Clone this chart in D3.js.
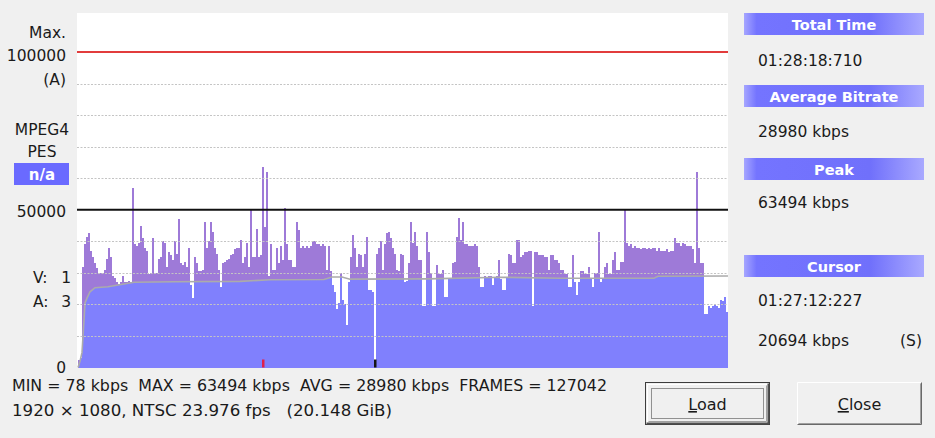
<!DOCTYPE html>
<html><head><meta charset="utf-8">
<script src="https://cdn.jsdelivr.net/npm/d3@7"></script>
<style>
html,body{margin:0;padding:0;background:#f0f0f0;}
svg{display:block;}
text{font-family:"DejaVu Sans",Tahoma,Verdana,sans-serif;fill:#1a1a1a;}
</style></head><body>
<svg id="c" width="935" height="438"></svg>
<script>
// ---- data (kbps per time bucket, left to right) ----
const bitrates = [
2500,3000,32000,39000,41500,42700,37000,35000,33000,31500,
30000,30000,30000,31000,34500,38000,35000,29000,28500,27000,
26500,27000,29000,27000,27000,27500,27000,57000,39000,38500,
39500,45000,41000,38000,37000,29500,30000,41000,30000,30000,
34500,35000,40000,39500,32000,36500,35500,34000,40000,36000,
47000,33000,32500,33500,32000,38000,26000,22000,35000,33000,
30500,30500,31000,46000,38000,40000,46000,43000,38000,36000,
31000,25500,33000,33500,34000,34500,35500,36000,37500,38000,
38000,40500,33000,35000,39500,32000,50000,35000,35000,44000,
35000,35500,63494,44500,62000,29000,39000,31000,31000,38000,
33000,38500,34000,50500,39000,34000,34000,32000,32000,46000,
43500,38000,38500,38000,38500,38000,38500,40000,40000,39000,
39000,38500,39000,38500,31000,38500,30500,26000,24000,18500,
20500,30000,21500,20000,13500,27000,35000,42000,38000,32000,
36000,35500,32000,36000,41500,24500,24500,24000,78,36000,
38000,40000,31000,39000,42500,43000,41000,38000,36000,31000,
30500,36000,35500,27000,27500,33000,46000,39500,43000,38500,
34000,34000,19500,19500,43000,36500,30000,19500,19500,32500,
29500,29500,31000,22500,22500,28500,28000,33000,33500,41500,
47500,40500,46000,39000,39000,38500,38500,38500,39000,38500,
32000,25500,25500,29000,28500,29000,29000,26000,28500,29000,
34000,28000,24500,24500,28500,36000,35500,33000,33000,40500,
40500,35000,35500,36500,36500,37000,37000,19500,36500,36500,
35500,35500,35500,35000,35000,31000,35500,35500,34000,34000,
33000,31000,31000,29500,29500,25500,25500,35500,27000,23000,
27000,30500,30500,29500,29500,32000,28000,25500,30000,30000,
43000,27000,28000,32000,33000,29500,29500,34000,36500,31000,
31000,33500,33500,50000,39500,38500,39000,38000,38500,38000,
38000,37500,38000,38000,37500,38000,37500,38000,38000,37000,
38000,37000,37000,37000,37500,36500,37000,37000,41000,39500,
39500,38500,39500,39000,38500,38500,38500,37500,33000,62000,
38000,33000,33000,17000,17000,19500,19000,19500,20000,19500,
19000,21500,21000,22500,17500
];
// running average (grey line): bucket position and kbps
const avgPos    = [0,1,2,3,3.5,4.5,6,8.5,15,28,48,81,96,123,127,132,136,175,211,241,288,290,325];
const avgValues = [0,2000,4700,15000,20500,22000,24000,25300,25600,27000,27200,27300,27800,27900,28700,28700,28000,28100,28600,28300,28300,28900,28980];

const gridTicks = [10000,20000,30000,40000,60000,70000,80000,90000];
const maxLine = 100000;
const refLine = 50000;

const leftRight = [ // right aligned labels
  {t:"Max.", y:38}, {t:"100000", y:61}, {t:"(A)", y:85}, {t:"50000", y:217}, {t:"0", y:373}
];
const leftCenter = [{t:"MPEG4", y:135}, {t:"PES", y:157}];
const streamLabels = [{k:"V:", v:"1", y:283}, {k:"A:", v:"3", y:307}];

const panelHeaders = ["Total Time","Average Bitrate","Peak","Cursor"];
const panelHeaderY = [13,85,158,255];
const panelValues = [
  {t:"01:28:18:710", y:66}, {t:"28980 kbps", y:137}, {t:"63494 kbps", y:208},
  {t:"01:27:12:227", y:306}, {t:"20694 kbps", y:346}
];
const cursorFlag = "(S)";
const statsLine1 = "MIN = 78 kbps  MAX = 63494 kbps  AVG = 28980 kbps  FRAMES = 127042";
const statsLine2 = "1920 \u00d7 1080, NTSC 23.976 fps   (20.148 GiB)";
const buttons = [{label:"Load", def:true}, {label:"Close", def:false}];

// ---- drawing ----
const svg = d3.select("#c");
const N = bitrates.length;
const x = d3.scaleLinear().domain([0, N]).range([78, 728]);
const y = d3.scaleLinear().domain([0, 100000]).range([367.5, 52]);
const plotTop = 13;

const defs = svg.append("defs");
const hg = defs.append("linearGradient").attr("id","hdr").attr("x1","0").attr("x2","1");
[["0%","#a6a6ff"],["7%","#7474ff"],["70%","#7070fb"],["100%","#a9a9ff"]].forEach(s=>hg.append("stop").attr("offset",s[0]).attr("stop-color",s[1]));

// plot background
svg.append("rect").attr("x", 77).attr("y", plotTop).attr("width", 651).attr("height", y(0) - plotTop + 0.5).attr("fill", "#fff");

const bw = x(1) - x(0);
// purple: whole bar
svg.append("g").selectAll("rect").data(bitrates).join("rect")
  .attr("x", (d,i) => x(i)).attr("width", bw)
  .attr("y", d => y(d)).attr("height", d => y(0) - y(d))
  .attr("fill", "#9e7ad8").attr("shape-rendering","crispEdges");

// blue: part below running average (clip)
const avgPts = avgPos.map((p,i)=>[p, avgValues[i]]);
defs.append("clipPath").attr("id","under").append("path")
  .attr("d", d3.area().x(d=>x(d[0])).y0(y(0)+2).y1(d=>y(d[1]))(avgPts));
svg.append("g").attr("clip-path","url(#under)").selectAll("rect").data(bitrates).join("rect")
  .attr("x", (d,i) => x(i)).attr("width", bw)
  .attr("y", d => y(d)).attr("height", d => y(0) - y(d))
  .attr("fill", "#8080fd").attr("shape-rendering","crispEdges");

// running average line
svg.append("path").attr("d", d3.line().x(d=>x(d[0])).y(d=>y(d[1]))(avgPts))
  .attr("fill","none").attr("stroke","#ababab").attr("stroke-width",1.6);

// grid
svg.append("g").selectAll("line").data(gridTicks).join("line")
  .attr("x1", 77).attr("x2", 728).attr("y1", d=>Math.round(y(d))+0.5).attr("y2", d=>Math.round(y(d))+0.5)
  .attr("stroke","#c4c4c4").attr("stroke-dasharray","2,1.5");
svg.append("line").attr("x1",77).attr("x2",728).attr("y1",y(maxLine)).attr("y2",y(maxLine))
  .attr("stroke","#e23c3c").attr("stroke-width",2);
svg.append("line").attr("x1",77).attr("x2",728).attr("y1",y(refLine)).attr("y2",y(refLine))
  .attr("stroke","#111").attr("stroke-width",2);

// max / min markers
const markers = [{i:d3.maxIndex(bitrates), c:"#e0204a"}, {i:d3.minIndex(bitrates), c:"#151515"}];
svg.append("g").selectAll("rect").data(markers).join("rect")
  .attr("x", d=>x(d.i)).attr("width", 2.5).attr("y", y(0)-8).attr("height", 8).attr("fill", d=>d.c);

// left labels
svg.append("g").selectAll("text").data(leftRight).join("text")
  .attr("x", 66).attr("y", d=>d.y).attr("text-anchor","end").attr("font-size",15.5).text(d=>d.t);
svg.append("g").selectAll("text").data(leftCenter).join("text")
  .attr("x", 42).attr("y", d=>d.y).attr("text-anchor","middle").attr("font-size",15.5).text(d=>d.t);
svg.append("rect").attr("x",14).attr("y",163).attr("width",55).attr("height",22).attr("fill","#6a6aff");
svg.append("text").attr("x",42).attr("y",179.5).attr("text-anchor","middle").attr("font-size",15)
  .attr("font-weight","bold").style("fill","#fff").text("n/a");
const sl = svg.append("g").selectAll("g").data(streamLabels).join("g");
sl.append("text").attr("x",33).attr("y",d=>d.y).attr("font-size",15.5).text(d=>d.k);
sl.append("text").attr("x",71).attr("y",d=>d.y).attr("text-anchor","end").attr("font-size",15.5).text(d=>d.v);

// right panel
const hdr = svg.append("g").selectAll("g").data(panelHeaders).join("g");
hdr.append("rect").attr("x",744).attr("y",(d,i)=>panelHeaderY[i]).attr("width",180).attr("height",22).attr("fill","url(#hdr)");
hdr.append("text").attr("x",834).attr("y",(d,i)=>panelHeaderY[i]+16.5).attr("text-anchor","middle")
  .attr("font-size",14.5).attr("font-weight","bold").style("fill","#fff").text(d=>d);
svg.append("g").selectAll("text").data(panelValues).join("text")
  .attr("x",758).attr("y",d=>d.y).attr("font-size",15.5).text(d=>d.t);
svg.append("text").attr("x",922).attr("y",346).attr("text-anchor","end").attr("font-size",15.5).text(cursorFlag);

// stats
svg.append("text").attr("x",12).attr("y",391).attr("font-size",15.5).style("white-space","pre")
  .attr("textLength",595).attr("lengthAdjust","spacingAndGlyphs").text(statsLine1);
svg.append("text").attr("x",12).attr("y",416).attr("font-size",15.5).style("white-space","pre")
  .attr("textLength",380).attr("lengthAdjust","spacingAndGlyphs").text(statsLine2);

// buttons
const bx = [645, 797];
buttons.forEach((b, k) => {
  const g = svg.append("g").attr("transform", `translate(${bx[k]},382)`);
  const w = 125, h = 43;
  g.append("rect").attr("width",w).attr("height",h).attr("fill","#f0f0f0");
  if (b.def) {
    g.append("rect").attr("x",0.5).attr("y",0.5).attr("width",w-1).attr("height",h-1).attr("fill","none").attr("stroke","#3c3c3c").attr("stroke-width",1);
    g.append("path").attr("d",`M2.5,${h-2.5}V2.5H${w-2.5}`).attr("fill","none").attr("stroke","#fff");
    g.append("path").attr("d",`M1.5,${h-1.5}H${w-1.5}V1.5`).attr("fill","none").attr("stroke","#505050").attr("stroke-width",2);
    g.append("path").attr("d",`M3.5,${h-3.5}H${w-3.5}V3.5`).attr("fill","none").attr("stroke","#a0a0a0");
    g.append("rect").attr("x",6.5).attr("y",6.5).attr("width",w-13).attr("height",h-13).attr("fill","none")
      .attr("stroke","#333").attr("stroke-dasharray","1,1");
  } else {
    g.append("path").attr("d",`M0.5,${h-0.5}V0.5H${w-0.5}`).attr("fill","none").attr("stroke","#fff");
    g.append("path").attr("d",`M0.5,${h-0.5}H${w-0.5}V0.5`).attr("fill","none").attr("stroke","#696969");
    g.append("path").attr("d",`M1.5,${h-1.5}H${w-1.5}V1.5`).attr("fill","none").attr("stroke","#a0a0a0");
  }
  const t = g.append("text").attr("x",w/2).attr("y",28).attr("text-anchor","middle").attr("font-size",16);
  t.append("tspan").attr("text-decoration","underline").text(b.label[0]);
  t.append("tspan").text(b.label.slice(1));
});
</script>
</body></html>
